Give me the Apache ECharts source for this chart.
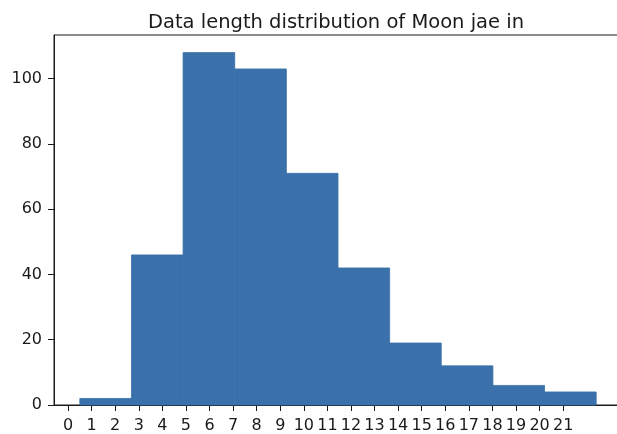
<!DOCTYPE html>
<html>
<head>
<meta charset="utf-8">
<script src="https://cdn.jsdelivr.net/npm/echarts@6/dist/echarts.min.js"></script>
<style>html,body{margin:0;padding:0;background:#fff}#c{width:617px;height:434px}</style>
</head>
<body>
<div id="c"></div>
<script>
const titleText = "Data length distribution of Moon jae in";
const binEdges = [0.5, 2.69, 4.88, 7.07, 9.26, 11.45, 13.64, 15.83, 18.02, 20.21, 22.4];
const counts = [2, 46, 108, 103, 71, 42, 19, 12, 6, 4];
const xTicks = [0,1,2,3,4,5,6,7,8,9,10,11,12,13,14,15,16,17,18,19,20,21];
const yTicks = [0, 20, 40, 60, 80, 100];

const data = counts.map((c, i) => [binEdges[i], binEdges[i + 1], c]);
const chart = echarts.init(document.getElementById('c'), null, {renderer: 'canvas'});
const font = 'DejaVu Sans';
chart.setOption({
  animation: false,
  backgroundColor: '#fff',
  title: {
    text: titleText, left: 331, top: 8, textAlign: 'center',
    textStyle: {fontFamily: font, fontSize: 19.5, fontWeight: 'normal', color: '#1a1a1a'}
  },
  grid: {left: 54, width: 568, top: 35, bottom: 29, show: true, borderColor: '#1a1a1a', borderWidth: 1,
         containLabel: false, outerBoundsMode: 'none'},
  xAxis: {
    type: 'value', min: -0.595, max: 23.495,
    splitLine: {show: false},
    axisLine: {show: true, onZero: false, lineStyle: {color: '#1a1a1a'}},
    axisTick: {show: true, length: 6, customValues: xTicks, lineStyle: {color: '#1a1a1a'}},
    axisLabel: {customValues: xTicks, fontFamily: font, fontSize: 16, color: '#1a1a1a', margin: 13}
  },
  yAxis: {
    type: 'value', min: 0, max: 113.4,
    splitLine: {show: false},
    axisLine: {show: true, onZero: false, lineStyle: {color: '#1a1a1a'}},
    axisTick: {show: true, length: 6, customValues: yTicks, lineStyle: {color: '#1a1a1a'}},
    axisLabel: {customValues: yTicks, fontFamily: font, fontSize: 16, color: '#1a1a1a', margin: 12}
  },
  series: [{
    type: 'custom',
    data: data,
    renderItem: function (params, api) {
      const p0 = api.coord([api.value(0), api.value(2)]);
      const p1 = api.coord([api.value(1), 0]);
      return {
        type: 'rect',
        shape: {x: p0[0], y: p0[1], width: p1[0] - p0[0], height: p1[1] - p0[1]},
        style: {fill: '#3a71ab', stroke: '#3a71ab', lineWidth: 0.8}
      };
    },
    encode: {x: [0, 1], y: 2}
  }]
});
</script>
</body>
</html>
